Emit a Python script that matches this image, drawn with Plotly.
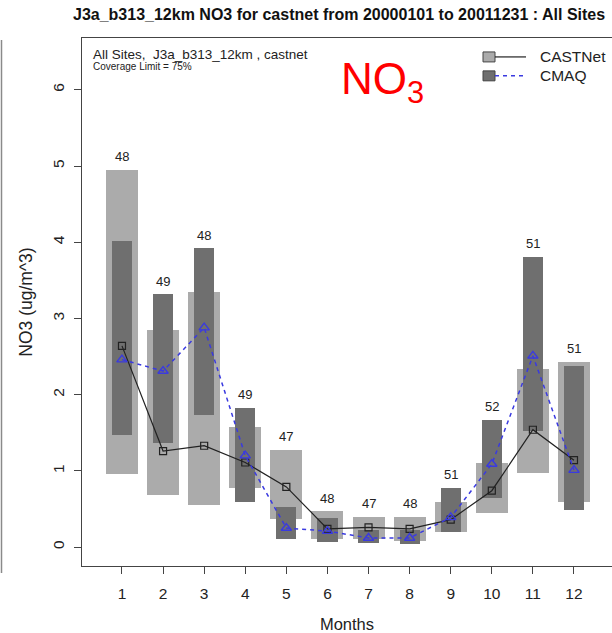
import plotly.graph_objects as go

# Monthly NO3 summaries (ug/m^3): box spans (25th-75th pct) and medians
months = [1, 2, 3, 4, 5, 6, 7, 8, 9, 10, 11, 12]
castnet_low = [0.96, 0.69, 0.55, 0.78, 0.37, 0.11, 0.10, 0.08, 0.20, 0.45, 0.97, 0.59]
castnet_high = [4.95, 2.85, 3.35, 1.58, 1.28, 0.47, 0.40, 0.40, 0.59, 1.11, 2.34, 2.43]
cmaq_low = [1.47, 1.36, 1.73, 0.59, 0.10, 0.07, 0.05, 0.04, 0.20, 0.65, 1.52, 0.49]
cmaq_high = [4.02, 3.32, 3.92, 1.83, 0.53, 0.38, 0.23, 0.23, 0.78, 1.67, 3.81, 2.38]
castnet_median = [2.64, 1.26, 1.33, 1.11, 0.79, 0.24, 0.26, 0.24, 0.36, 0.74, 1.54, 1.14]
cmaq_median = [2.46, 2.31, 2.88, 1.20, 0.25, 0.21, 0.12, 0.12, 0.39, 1.09, 2.51, 1.01]
site_counts = [48, 49, 48, 49, 47, 48, 47, 48, 51, 52, 51, 51]
y_ticks = [0, 1, 2, 3, 4, 5, 6]

LIGHT = "#ababab"
DARK = "#6f6f6f"
BLUE = "#3a3ae0"
FONT = "Liberation Sans, Arial, Helvetica, sans-serif"

W, H = 612, 633
L, R, T, B = 82, 0, 38, 65

fig = go.Figure()

fig.add_trace(go.Bar(
    x=months, base=castnet_low,
    y=[h - l for h, l in zip(castnet_high, castnet_low)],
    width=0.78, marker=dict(color=LIGHT, line=dict(width=0)),
    showlegend=False, name="CASTNet"))
fig.add_trace(go.Bar(
    x=months, base=cmaq_low,
    y=[h - l for h, l in zip(cmaq_high, cmaq_low)],
    width=0.49, marker=dict(color=DARK, line=dict(width=0)),
    showlegend=False, name="CMAQ"))

fig.add_trace(go.Scatter(
    x=months, y=castnet_median, mode="lines+markers",
    line=dict(color="#222222", width=1.2),
    marker=dict(symbol="square-open", size=7, color="#222222", line=dict(width=1.2)),
    showlegend=False, name="CASTNet"))
fig.add_trace(go.Scatter(
    x=months, y=cmaq_median, mode="lines+markers",
    line=dict(color=BLUE, width=1.5, dash="4px,4px"),
    marker=dict(symbol="triangle-up-open", size=9, color=BLUE, line=dict(width=1.4)),
    showlegend=False, name="CMAQ"))

# Site counts above each month
annotations = []
for m, ch, mh, n in zip(months, castnet_high, cmaq_high, site_counts):
    annotations.append(dict(
        x=m, y=max(ch, mh), xref="x", yref="y", text=str(n), showarrow=False,
        yshift=13, font=dict(family=FONT, size=13, color="#222222")))

pw = W - L - R
ph = H - T - B


def px_x(px):
    return (px - L) / pw


def px_y(py):
    return (H - B - py) / ph


annotations += [
    dict(x=px_x(71), y=px_y(14), xref="paper", yref="paper", xanchor="left",
         yanchor="middle", showarrow=False,
         text="<b>J3a_b313_12km NO3 for castnet from 20000101 to 20011231 : All Sites</b>",
         font=dict(family=FONT, size=16, color="#111111")),
    dict(x=px_x(91), y=px_y(55), xref="paper", yref="paper", xanchor="left",
         yanchor="middle", showarrow=False,
         text="All Sites,  J3a_b313_12km , castnet",
         font=dict(family=FONT, size=13.5, color="#222222")),
    dict(x=px_x(91), y=px_y(66.5), xref="paper", yref="paper", xanchor="left",
         yanchor="middle", showarrow=False, text="Coverage Limit = 75%",
         font=dict(family=FONT, size=10, color="#222222")),
    dict(x=px_x(339), y=px_y(82), xref="paper", yref="paper", xanchor="left",
         yanchor="middle", showarrow=False, text="NO<sub>3</sub>",
         font=dict(family=FONT, size=44, color="#ff0000")),
    dict(x=px_x(538), y=px_y(57), xref="paper", yref="paper", xanchor="left",
         yanchor="middle", showarrow=False, text="CASTNet",
         font=dict(family=FONT, size=15.5, color="#222222")),
    dict(x=px_x(538), y=px_y(76), xref="paper", yref="paper", xanchor="left",
         yanchor="middle", showarrow=False, text="CMAQ",
         font=dict(family=FONT, size=15.5, color="#222222")),
]

shapes = [
    # legend swatches
    dict(type="rect", xref="paper", yref="paper", x0=px_x(483), x1=px_x(495),
         y0=px_y(62), y1=px_y(52), fillcolor=LIGHT, line=dict(color="#444444", width=1)),
    dict(type="line", xref="paper", yref="paper", x0=px_x(495), x1=px_x(526),
         y0=px_y(57), y1=px_y(57), line=dict(color="#222222", width=1.2)),
    dict(type="rect", xref="paper", yref="paper", x0=px_x(483), x1=px_x(495),
         y0=px_y(81), y1=px_y(71), fillcolor=DARK, line=dict(color="#444444", width=1)),
    dict(type="line", xref="paper", yref="paper", x0=px_x(495), x1=px_x(526),
         y0=px_y(76), y1=px_y(76), line=dict(color=BLUE, width=1.5, dash="4px,4px")),
    # neighbouring panel edge on the far left
    dict(type="line", xref="paper", yref="paper", x0=px_x(1.5), x1=px_x(1.5),
         y0=px_y(40), y1=px_y(575), line=dict(color="#8a8a8a", width=1.5)),
]

fig.update_layout(
    width=W, height=H, margin=dict(l=L, r=R, t=T, b=B),
    paper_bgcolor="white", plot_bgcolor="white",
    barmode="overlay", bargap=0,
    annotations=annotations, shapes=shapes,
    font=dict(family=FONT, color="#222222"),
    xaxis=dict(
        range=[0.027, 12.925], tickvals=months, ticktext=[str(m) for m in months],
        showgrid=False, zeroline=False, showline=True, linecolor="#444444",
        linewidth=1.2, mirror=True, ticks="outside", ticklen=7, tickwidth=1.2,
        tickcolor="#444444", tickfont=dict(family=FONT, size=15.5),
        ticklabelstandoff=6,
        title=dict(text="Months", font=dict(family=FONT, size=16.5), standoff=20),
    ),
    yaxis=dict(
        range=[-0.248, 6.68], tickvals=y_ticks, ticktext=[str(v) for v in y_ticks],
        showgrid=False, zeroline=False, showline=True, linecolor="#444444",
        linewidth=1.2, ticks="outside", ticklen=7, tickwidth=1.2,
        tickcolor="#444444", tickangle=-90, tickfont=dict(family=FONT, size=15.5),
        ticklabelstandoff=4,
        title=dict(text="NO3 (ug/m^3)", font=dict(family=FONT, size=17.5), standoff=12),
    ),
)

fig.write_html("out.html")
